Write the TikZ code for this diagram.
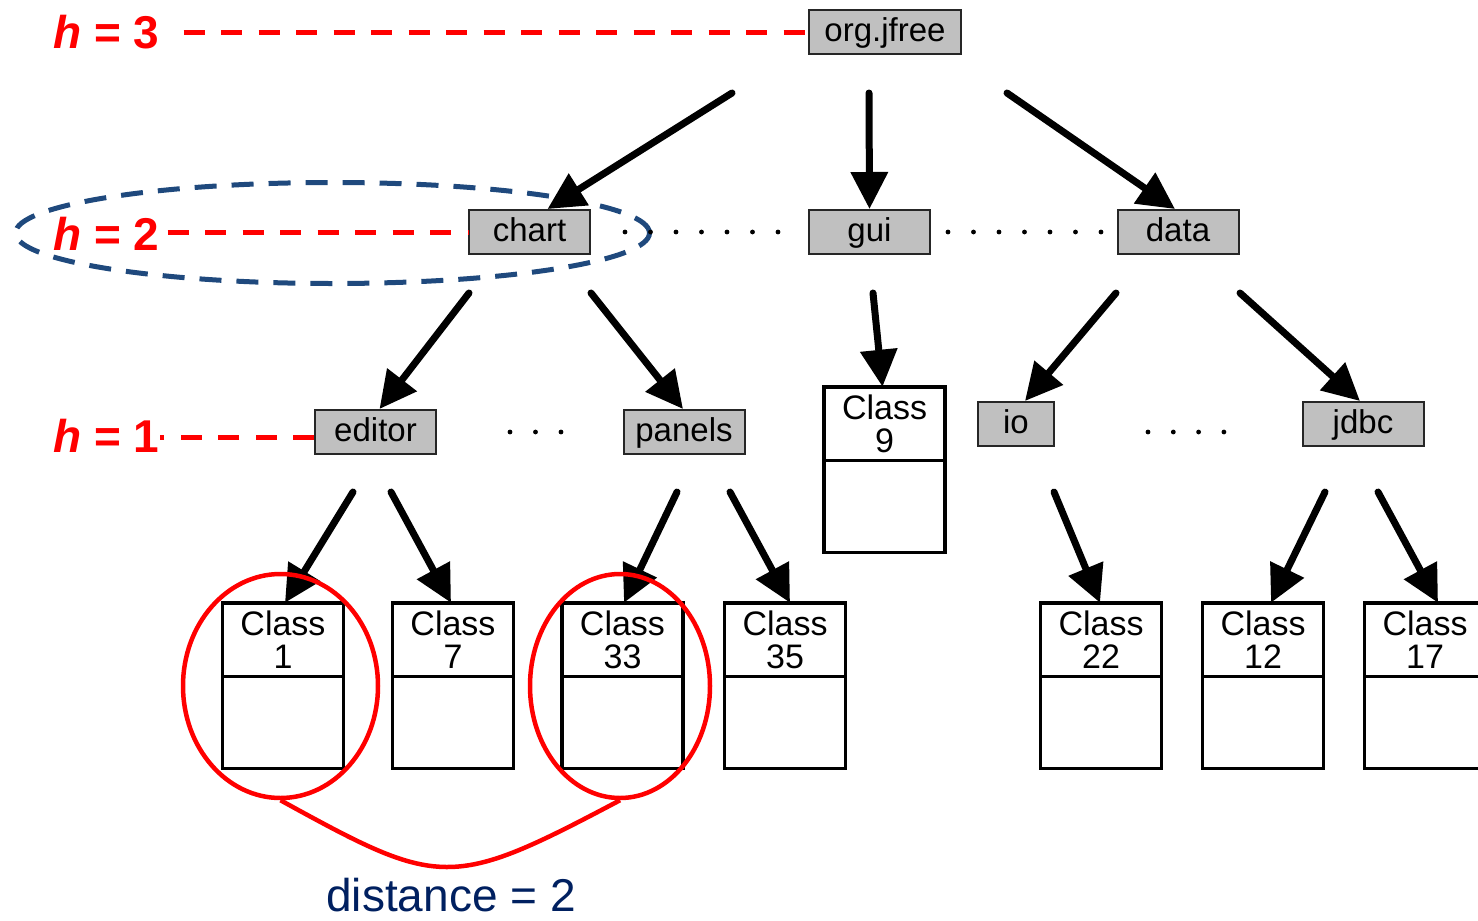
\documentclass[tikz,border=0pt]{standalone}
\usepackage{fontspec}
\setmainfont{Liberation Sans}
\usetikzlibrary{arrows.meta,positioning,shapes.geometric}
\definecolor{levelred}{RGB}{255,0,0}
\definecolor{ringblue}{RGB}{31,73,125}
\definecolor{navytext}{RGB}{0,32,96}
\definecolor{pkggray}{RGB}{192,192,192}

\begin{document}
\begin{tikzpicture}[x=1pt, y=-1pt,
    pkg/.style={draw=black!85, fill=pkggray, line width=2pt, minimum width=121pt,
                minimum height=44pt, inner sep=0pt, text height=26pt, text depth=7pt,
                font=\fontsize{33}{33}\selectfont},
    cls/.style={draw, line width=3.5pt, minimum width=121pt, minimum height=73.5pt,
                inner sep=0pt, outer sep=0pt, align=center, font=\fontsize{34}{33}\selectfont},
    clsbody/.style={draw, line width=3.5pt, minimum width=121pt, minimum height=92pt,
                inner sep=0pt, outer sep=0pt},
    link/.style={line width=7pt, line cap=round, -{Triangle[length=37pt,width=36pt]}},
    level/.style={text=levelred, inner sep=0pt, font=\fontsize{46}{46}\bfseries\selectfont},
    levelline/.style={levelred, line width=5pt, dash pattern=on 21pt off 16.5pt},
    ring/.style={ellipse, draw=levelred, line width=4.5pt, inner sep=0pt, minimum height=224pt}
]
\useasboundingbox (0,0) rectangle (1478,921);

\node[ellipse, draw=ringblue, line width=5pt, dash pattern=on 22pt off 15pt,
      minimum width=634pt, minimum height=101pt] (levelring) at (332.5,233) {};

\node[pkg, minimum width=152pt] (orgjfree) at (885,32) {org.jfree};
\node[pkg] (chart) at (529.5,232) {chart};
\node[pkg] (gui) at (869.5,232) {gui};
\node[pkg] (data) at (1178,232) {data};
\node[pkg] (editor) at (375.5,432) {editor};
\node[pkg] (panels) at (684,432) {panels};
\node[pkg, minimum width=76pt] (io) at (1016,424) {io};
\node[pkg] (jdbc) at (1363,424) {jdbc};

\node[cls] (c9) at (884.5,423.5) {Class\\9};
\node[cls] (c1) at (283,639.5) {Class\\1};
\node[cls] (c7) at (453,639.5) {Class\\7};
\node[cls] (c33) at (622.5,639.5) {Class\\33};
\node[cls] (c35) at (785,639.5) {Class\\35};
\node[cls] (c22) at (1101,639.5) {Class\\22};
\node[cls] (c12) at (1263,639.5) {Class\\12};
\node[cls] (c17) at (1425,639.5) {Class\\17};
\foreach \c in {c9,c1,c7,c33,c35,c22,c12,c17}
  \node[clsbody, below=0pt of \c] (\c-body) {};

\draw[link] ([xshift=-153pt,yshift=-38pt]orgjfree.south) -- ([xshift=18pt]chart.north);
\draw[link] ([xshift=-16pt,yshift=-38pt]orgjfree.south) -- (gui.north);
\draw[link] ([xshift=122pt,yshift=-38pt]orgjfree.south) -- ([xshift=-3pt]data.north);
\draw[link] ([xshift=-60.5pt,yshift=-38pt]chart.south) -- ([xshift=4pt]editor.north);
\draw[link] ([xshift=61.5pt,yshift=-38pt]chart.south) -- ([xshift=-1pt]panels.north);
\draw[link] ([xshift=3.5pt,yshift=-38pt]gui.south) -- ([xshift=-2pt]c9.north);
\draw[link] ([xshift=-62pt,yshift=-38pt]data.south) -- ([xshift=9pt]io.north);
\draw[link] ([xshift=62pt,yshift=-38pt]data.south) -- ([xshift=-3pt]jdbc.north);
\draw[link] ([xshift=-22.5pt,yshift=-37pt]editor.south) -- ([xshift=2pt]c1.north);
\draw[link] ([xshift=15.5pt,yshift=-37pt]editor.south) -- ([xshift=-2pt]c7.north);
\draw[link] ([xshift=-7pt,yshift=-37pt]panels.south) -- ([xshift=1.5pt]c33.north);
\draw[link] ([xshift=46pt,yshift=-37pt]panels.south) -- ([xshift=5pt]c35.north);
\draw[link] ([xshift=38pt,yshift=-45pt]io.south) -- ([xshift=-1pt]c22.north);
\draw[link] ([xshift=-38pt,yshift=-45pt]jdbc.south) -- ([xshift=8pt]c12.north);
\draw[link] ([xshift=15pt,yshift=-45pt]jdbc.south) -- ([xshift=13pt]c17.north);

\foreach \i in {0,...,6} {
  \fill ([xshift={34pt+\i*25.5pt}]chart.east) circle (2.4);
  \fill ([xshift={17pt+\i*25.5pt}]gui.east) circle (2.4);
}
\foreach \i in {0,1,2}
  \fill ([xshift={73pt+\i*25.5pt}]editor.east) circle (2.4);
\foreach \i in {0,...,3}
  \fill ([xshift={93pt+\i*25.3pt},yshift=-8pt]io.east) circle (2.4);

\node[level, anchor=base west] (h3) at (53,48) {\textit{h} = 3};
\node[level, anchor=base west] (h2) at (53,250) {\textit{h} = 2};
\node[level, anchor=base west] (h1) at (53,452) {\textit{h} = 1};
\draw[levelline, shorten <=24pt] (h3.east |- orgjfree.west) -- (orgjfree.west);
\draw[levelline, shorten <=8pt] (h2.east |- chart.west) -- (chart.west);
\draw[levelline, transform canvas={yshift=-5pt}] (editor.west) -- (h1.east |- editor.west);

\node[ring, minimum width=195pt] (e1) at (280.5,686) {};
\node[ring, minimum width=180pt] (e33) at (620,686) {};
\draw[levelred, line width=4.5pt] (e1.south) .. controls +(160,88) and +(-170,90) .. (e33.south);

\node[text=navytext, inner sep=0pt, font=\fontsize{46}{46}\selectfont, anchor=base] (dist) at (451,911) {distance = 2};
\end{tikzpicture}
\end{document}
